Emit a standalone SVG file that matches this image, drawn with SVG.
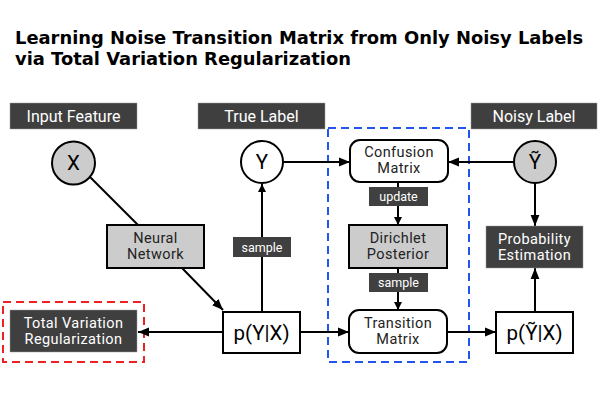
<svg xmlns="http://www.w3.org/2000/svg" width="600" height="400" viewBox="0 0 600 400">
<defs>
<marker id="arr" viewBox="0 0 10 10" refX="10" refY="5" markerWidth="8" markerHeight="8" markerUnits="userSpaceOnUse" orient="auto">
<path d="M0,0 L10,5 L0,10 z" fill="#000"/>
</marker>
<marker id="arrL" viewBox="0 0 10 10" refX="10" refY="5" markerWidth="11" markerHeight="11" markerUnits="userSpaceOnUse" orient="auto">
<path d="M0,1 L10,5 L0,9 z" fill="#000"/>
</marker>
</defs>
<style>
.title{font-family:"DejaVu Sans",sans-serif;font-weight:bold;font-size:17.9px;fill:#000}
.hdr{fill:#3f3f3f;stroke:#9a9a9a;stroke-width:0.5}
.hdrt{font-family:Roboto,"Liberation Sans",sans-serif;font-size:16px;fill:#fff;text-anchor:middle}
.hdrt2{font-family:Roboto,"Liberation Sans",sans-serif;font-size:14.5px;letter-spacing:0.4px;fill:#fff;text-anchor:middle}
.small{fill:#404040}
.smallt{font-family:Roboto,"Liberation Sans",sans-serif;font-size:12.5px;fill:#fff;text-anchor:middle}
.node{stroke:#000;stroke-width:2}
.nt{font-family:Roboto,"Liberation Sans",sans-serif;font-size:14.5px;letter-spacing:0.4px;fill:#222;text-anchor:middle}
.big{font-family:Roboto,"Liberation Sans",sans-serif;font-size:20.5px;fill:#000;text-anchor:middle}
.c{stroke:#000;stroke-width:2;fill:none}
</style>
<rect width="600" height="400" fill="#fff"/>
<text class="title" x="15" y="44">Learning Noise Transition Matrix from Only Noisy Labels</text>
<text class="title" x="15" y="65">via Total Variation Regularization</text>

<rect x="328" y="128" width="141" height="234" fill="none" stroke="#2255ee" stroke-width="2" stroke-dasharray="8,5"/>
<rect x="3" y="302" width="141" height="60" fill="none" stroke="#ee2222" stroke-width="2" stroke-dasharray="8,5"/>

<g id="connectors">
<line class="c" x1="90" y1="177" x2="138" y2="225"/>
<line class="c" x1="182" y1="268" x2="223" y2="310" marker-end="url(#arrL)"/>
<line class="c" x1="262" y1="312" x2="262" y2="184" marker-end="url(#arr)"/>
<line class="c" x1="223" y1="332" x2="138" y2="332" marker-end="url(#arrL)"/>
<line class="c" x1="283" y1="162" x2="350" y2="162" marker-end="url(#arrL)"/>
<line class="c" x1="514" y1="162" x2="448" y2="162" marker-end="url(#arrL)"/>
<line class="c" x1="398" y1="182" x2="398" y2="225" marker-end="url(#arr)"/>
<line class="c" x1="398" y1="268" x2="398" y2="310" marker-end="url(#arr)"/>
<line class="c" x1="300" y1="332" x2="349" y2="332" marker-end="url(#arrL)"/>
<line class="c" x1="447" y1="332" x2="496" y2="332" marker-end="url(#arrL)"/>
<line class="c" x1="535" y1="312" x2="535" y2="268" marker-end="url(#arrL)"/>
<line class="c" x1="535" y1="183" x2="535" y2="226" marker-end="url(#arrL)"/>
<g id="lbl-sample1"><rect class="small" x="233" y="237" width="58" height="20"/><text class="smallt" x="262" y="251.5">sample</text></g>
<g id="lbl-update"><rect class="small" x="369" y="187" width="59" height="19"/><text class="smallt" x="398.5" y="201">update</text></g>
<g id="lbl-sample2"><rect class="small" x="369" y="273" width="59" height="19"/><text class="smallt" x="398.5" y="287">sample</text></g>
</g>

<g id="hdr-input"><rect class="hdr" x="10" y="103" width="127" height="26"/><text class="hdrt" x="73.5" y="121.5">Input Feature</text></g>
<g id="hdr-true"><rect class="hdr" x="198" y="103" width="127" height="26"/><text class="hdrt" x="261.5" y="121.5">True Label</text></g>
<g id="hdr-noisy"><rect class="hdr" x="471" y="103" width="126" height="26"/><text class="hdrt" x="534" y="121.5">Noisy Label</text></g>

<g id="X"><circle class="node" cx="73.5" cy="163" r="21.5" fill="#cccccc"/><text class="big" x="73.5" y="170">X</text></g>
<g id="Y"><circle class="node" cx="262" cy="162" r="21" fill="#fff"/><text class="big" x="262" y="169">Y</text></g>
<g id="Yt"><circle class="node" cx="535" cy="162" r="21" fill="#cccccc"/><text class="big" x="535" y="169">Ỹ</text></g>

<g id="nn"><rect class="node" x="107" y="225" width="97" height="43" fill="#cccccc"/><text class="nt" x="155.5" y="243">Neural</text><text class="nt" x="155.5" y="259">Network</text></g>
<g id="pyx"><rect class="node" x="223" y="312" width="77" height="41" fill="#fff"/><text class="big" x="261.5" y="340">p(Y|X)</text></g>
<g id="tv"><rect x="10" y="310" width="127" height="42" fill="#3f3f3f" stroke="#9a9a9a" stroke-width="0.5"/><text class="hdrt2" x="73.5" y="328">Total Variation</text><text class="hdrt2" x="73.5" y="344">Regularization</text></g>

<g id="cm"><rect class="node" x="350" y="140" width="98" height="42" rx="10" fill="#fff"/><text class="nt" x="399" y="157">Confusion</text><text class="nt" x="399" y="173">Matrix</text></g>
<g id="dp"><rect class="node" x="349" y="225" width="98" height="43" fill="#cccccc"/><text class="nt" x="398" y="243">Dirichlet</text><text class="nt" x="398" y="259">Posterior</text></g>
<g id="tm"><rect class="node" x="349" y="310" width="98" height="43" rx="10" fill="#fff"/><text class="nt" x="398" y="328">Transition</text><text class="nt" x="398" y="344">Matrix</text></g>

<g id="pytx"><rect class="node" x="496" y="312" width="77" height="41" fill="#fff"/><text class="big" x="534.5" y="340">p(Ỹ|X)</text></g>
<g id="pe"><rect x="486" y="226" width="97" height="42" fill="#3f3f3f" stroke="#9a9a9a" stroke-width="0.5"/><text class="hdrt2" x="534.5" y="244">Probability</text><text class="hdrt2" x="534.5" y="260">Estimation</text></g>
</svg>
